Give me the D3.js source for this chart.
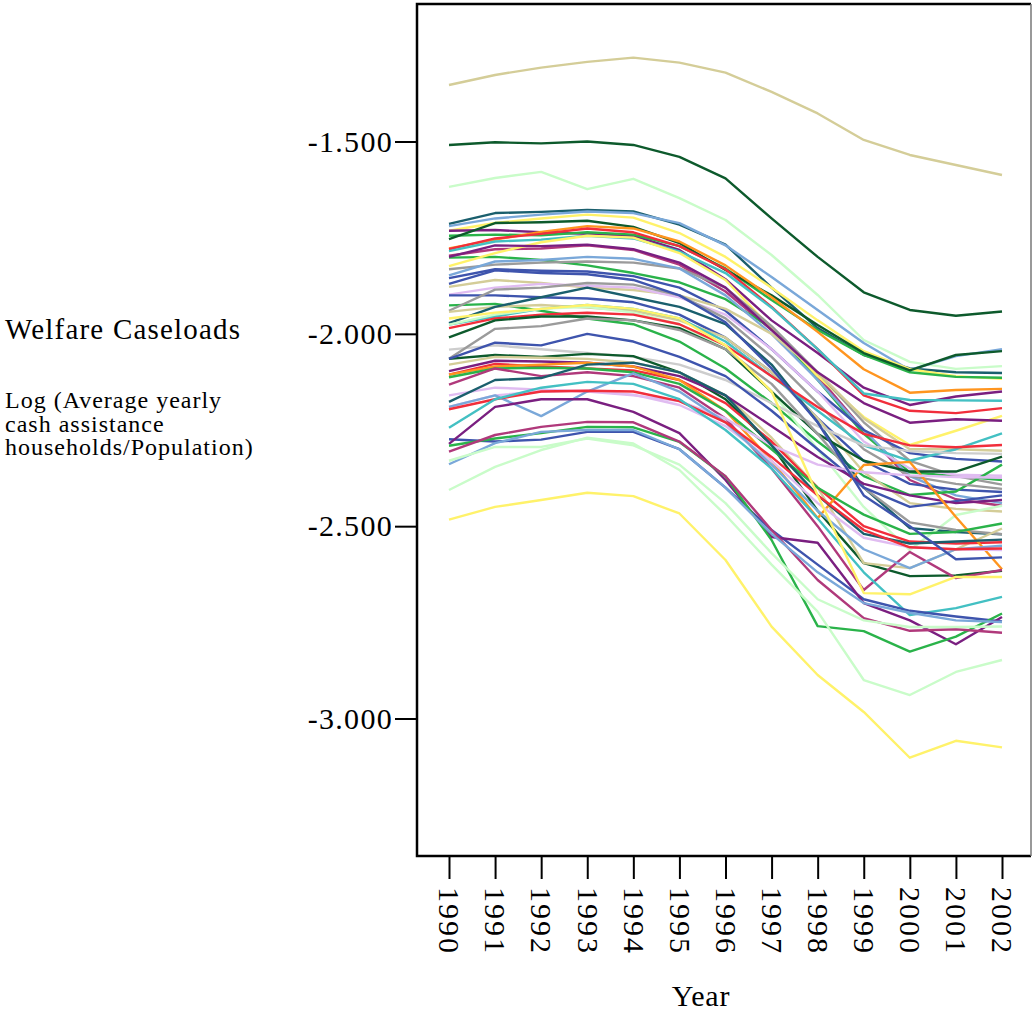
<!DOCTYPE html>
<html>
<head>
<meta charset="utf-8">
<script src="https://cdn.jsdelivr.net/npm/d3@7/dist/d3.min.js"></script>
<style>
  body { margin: 0; background: #fff; }
  svg text { font-family: "Liberation Serif", "Times New Roman", serif; fill: #000; }
</style>
</head>
<body>
<div id="chart-area"></div>
<script>
// tick labels / categories
const years = [1990, 1991, 1992, 1993, 1994, 1995, 1996, 1997, 1998, 1999, 2000, 2001, 2002]
const yTicks = [-1.5, -2.0, -2.5, -3.0]

// one colour per state line
const seriesColors = [
  "tan", "darkgreen", "lightgreen", "darkteal", "lightblue", "yellow", "purple", "green",
  "darkgreen", "orange", "red", "cyan", "magenta", "green", "yellow", "gray",
  "lightblue", "blue", "tan", "lavender", "blue", "green", "gray", "tan",
  "darkteal", "cyan", "lightgreen", "red", "darkgreen", "lightgray", "gray", "darkgreen",
  "blue", "tan", "purple", "purple", "red", "orange", "green", "magenta",
  "lavender", "darkteal", "lavender", "lightblue", "red", "cyan", "blue", "purple",
  "green", "magenta", "lightblue", "lightgreen", "lightgreen", "yellow", "yellow", "blue"
]

// log(avg yearly cash assistance households / population), 1990..2002
const caseloads = [
  [-1.353, -1.327, -1.308, -1.293, -1.282, -1.295, -1.321, -1.371, -1.427, -1.496, -1.535, -1.561, -1.587],
  [-1.509, -1.502, -1.505, -1.500, -1.509, -1.540, -1.596, -1.700, -1.800, -1.892, -1.938, -1.953, -1.942],
  [-1.618, -1.595, -1.579, -1.624, -1.597, -1.647, -1.704, -1.795, -1.899, -2.016, -2.073, -2.091, -2.084],
  [-1.714, -1.686, -1.683, -1.678, -1.682, -1.716, -1.768, -1.880, -1.985, -2.055, -2.090, -2.100, -2.102],
  [-1.720, -1.700, -1.690, -1.682, -1.686, -1.712, -1.770, -1.852, -1.938, -2.024, -2.094, -2.058, -2.040],
  [-1.732, -1.712, -1.700, -1.690, -1.698, -1.738, -1.800, -1.880, -1.965, -2.045, -2.092, -2.110, -2.117],
  [-1.732, -1.730, -1.736, -1.740, -1.745, -1.782, -1.858, -1.965, -2.050, -2.140, -2.185, -2.163, -2.150],
  [-1.745, -1.742, -1.744, -1.736, -1.742, -1.772, -1.830, -1.912, -1.990, -2.055, -2.100, -2.112, -2.114],
  [-1.754, -1.712, -1.710, -1.706, -1.722, -1.764, -1.834, -1.900, -1.977, -2.050, -2.095, -2.055, -2.045],
  [-1.778, -1.755, -1.735, -1.720, -1.726, -1.760, -1.822, -1.905, -1.995, -2.092, -2.153, -2.146, -2.143],
  [-1.780, -1.752, -1.740, -1.726, -1.736, -1.772, -1.832, -1.930, -2.040, -2.160, -2.200, -2.206, -2.193],
  [-1.785, -1.760, -1.755, -1.745, -1.752, -1.786, -1.842, -1.932, -2.040, -2.155, -2.172, -2.173, -2.174],
  [-1.797, -1.780, -1.778, -1.770, -1.782, -1.820, -1.890, -1.990, -2.110, -2.250, -2.380, -2.430, -2.447],
  [-1.802, -1.800, -1.808, -1.822, -1.842, -1.866, -1.910, -1.985, -2.120, -2.260, -2.360, -2.370, -2.380],
  [-1.824, -1.790, -1.762, -1.745, -1.750, -1.790, -1.860, -1.985, -2.110, -2.216, -2.289, -2.252, -2.213],
  [-1.832, -1.820, -1.815, -1.812, -1.815, -1.830, -1.880, -1.980, -2.100, -2.230, -2.330, -2.370, -2.392],
  [-1.848, -1.812, -1.808, -1.800, -1.805, -1.830, -1.900, -2.000, -2.120, -2.250, -2.370, -2.420, -2.440],
  [-1.855, -1.832, -1.836, -1.838, -1.850, -1.880, -1.940, -2.040, -2.150, -2.250, -2.310, -2.325, -2.332],
  [-1.878, -1.860, -1.868, -1.880, -1.886, -1.900, -1.935, -2.000, -2.100, -2.220, -2.300, -2.300, -2.304],
  [-1.898, -1.880, -1.870, -1.875, -1.880, -1.905, -1.950, -2.040, -2.150, -2.280, -2.350, -2.366, -2.369],
  [-1.900, -1.900, -1.905, -1.908, -1.918, -1.950, -2.010, -2.100, -2.220, -2.330, -2.390, -2.405, -2.411],
  [-1.926, -1.922, -1.940, -1.960, -1.975, -2.020, -2.090, -2.180, -2.280, -2.370, -2.419, -2.410, -2.340],
  [-1.940, -1.885, -1.880, -1.868, -1.872, -1.900, -1.960, -2.060, -2.180, -2.300, -2.370, -2.390, -2.403],
  [-1.943, -1.930, -1.925, -1.932, -1.940, -1.965, -2.010, -2.100, -2.220, -2.360, -2.440, -2.455, -2.462],
  [-1.972, -1.930, -1.905, -1.880, -1.905, -1.930, -1.975, -2.080, -2.230, -2.400, -2.505, -2.515, -2.521],
  [-1.976, -1.955, -1.935, -1.925, -1.935, -1.960, -2.020, -2.110, -2.200, -2.290, -2.330, -2.300, -2.259],
  [-1.976, -1.950, -1.935, -1.930, -1.945, -1.975, -2.040, -2.150, -2.300, -2.450, -2.562, -2.471, -2.447],
  [-1.985, -1.960, -1.950, -1.945, -1.950, -1.975, -2.030, -2.110, -2.190, -2.260, -2.290, -2.295, -2.289],
  [-2.009, -1.965, -1.955, -1.955, -1.965, -1.985, -2.040, -2.150, -2.260, -2.330, -2.358, -2.358, -2.319],
  [-2.041, -2.030, -2.040, -2.050, -2.060, -2.080, -2.120, -2.180, -2.240, -2.290, -2.305, -2.310, -2.312],
  [-2.065, -1.987, -1.980, -1.960, -1.965, -1.990, -2.040, -2.130, -2.260, -2.400, -2.490, -2.510, -2.521],
  [-2.065, -2.055, -2.060, -2.052, -2.058, -2.100, -2.170, -2.290, -2.460, -2.596, -2.630, -2.628, -2.616],
  [-2.065, -2.023, -2.030, -2.000, -2.020, -2.060, -2.110, -2.200, -2.300, -2.400, -2.450, -2.435, -2.420],
  [-2.080, -2.060, -2.062, -2.065, -2.075, -2.100, -2.160, -2.270, -2.400, -2.596, -2.609, -2.560, -2.506],
  [-1.800, -1.770, -1.772, -1.768, -1.780, -1.815, -1.880, -1.990, -2.100, -2.180, -2.231, -2.222, -2.226],
  [-2.097, -2.070, -2.072, -2.075, -2.085, -2.110, -2.160, -2.240, -2.320, -2.390, -2.420, -2.440, -2.432],
  [-2.106, -2.078, -2.085, -2.090, -2.095, -2.120, -2.180, -2.280, -2.400, -2.500, -2.540, -2.545, -2.542],
  [-2.106, -2.085, -2.080, -2.075, -2.085, -2.120, -2.200, -2.330, -2.479, -2.341, -2.333, -2.476, -2.612],
  [-2.113, -2.090, -2.088, -2.090, -2.100, -2.130, -2.200, -2.300, -2.400, -2.470, -2.520, -2.515, -2.493],
  [-2.132, -2.090, -2.110, -2.100, -2.110, -2.140, -2.220, -2.350, -2.500, -2.666, -2.567, -2.635, -2.614],
  [-2.160, -2.140, -2.145, -2.150, -2.160, -2.175, -2.220, -2.290, -2.340, -2.360, -2.368, -2.372, -2.374],
  [-2.177, -2.120, -2.115, -2.080, -2.075, -2.100, -2.160, -2.290, -2.420, -2.520, -2.545, -2.540, -2.535],
  [-2.190, -2.160, -2.150, -2.148, -2.158, -2.185, -2.240, -2.330, -2.440, -2.530, -2.555, -2.560, -2.562],
  [-2.190, -2.160, -2.214, -2.150, -2.103, -2.150, -2.230, -2.340, -2.460, -2.560, -2.609, -2.560, -2.551],
  [-2.196, -2.170, -2.150, -2.148, -2.150, -2.175, -2.230, -2.320, -2.420, -2.510, -2.555, -2.560, -2.558],
  [-2.244, -2.170, -2.140, -2.125, -2.130, -2.170, -2.250, -2.350, -2.480, -2.620, -2.731, -2.713, -2.684],
  [-2.274, -2.280, -2.275, -2.255, -2.255, -2.300, -2.400, -2.510, -2.600, -2.690, -2.720, -2.735, -2.748],
  [-2.286, -2.190, -2.170, -2.170, -2.203, -2.258, -2.380, -2.528, -2.543, -2.700, -2.745, -2.807, -2.736],
  [-2.291, -2.272, -2.258, -2.242, -2.243, -2.281, -2.371, -2.536, -2.760, -2.773, -2.826, -2.787, -2.727],
  [-2.306, -2.263, -2.242, -2.229, -2.230, -2.280, -2.370, -2.510, -2.640, -2.739, -2.772, -2.768, -2.777],
  [-2.339, -2.284, -2.255, -2.250, -2.250, -2.300, -2.400, -2.520, -2.620, -2.700, -2.725, -2.745, -2.749],
  [-2.330, -2.294, -2.294, -2.272, -2.290, -2.340, -2.440, -2.570, -2.690, -2.745, -2.762, -2.762, -2.761],
  [-2.406, -2.346, -2.302, -2.270, -2.285, -2.354, -2.471, -2.600, -2.722, -2.900, -2.939, -2.879, -2.848],
  [-2.483, -2.450, -2.432, -2.413, -2.422, -2.467, -2.588, -2.761, -2.887, -2.983, -3.102, -3.058, -3.075],
  [-1.960, -1.945, -1.935, -1.925, -1.935, -1.960, -2.030, -2.150, -2.420, -2.674, -2.677, -2.632, -2.632],
  [-1.870, -1.835, -1.842, -1.845, -1.860, -1.900, -1.970, -2.090, -2.230, -2.420, -2.500, -2.586, -2.581]
]

const palette = {
  tan: "#d4cd98", darkgreen: "#0d5a2c", lightgreen: "#c9fcc9", darkteal: "#1a5f6d",
  lightblue: "#7aa8d9", yellow: "#fff26a", orange: "#ff951f", red: "#f12e3b",
  purple: "#7a1f80", magenta: "#b0397b", cyan: "#43c0c3", green: "#2ab34a",
  gray: "#9b9b9b", lightgray: "#cdcdcd", blue: "#3e54ad", lavender: "#e0bcf1"
}

const W = 1032, H = 1011
const PLOT = { LEFT: 417, RIGHT: 1031, TOP: 4, BOTTOM: 856 }

const svg = d3.select("#chart-area").append("svg")
  .attr("width", W)
  .attr("height", H)

// Scales
const x = d3.scaleLinear()
  .domain([1990, 2002])
  .range([449, 1002])
const y = d3.scaleLinear()
  .domain([-1.5, -3.0])
  .range([141.5, 718.5])

// Lines
const line = d3.line()
  .x((d, i) => x(years[i]))
  .y(d => y(d))

svg.append("g")
  .selectAll("path")
  .data(caseloads)
  .enter().append("path")
    .attr("d", line)
    .attr("fill", "none")
    .attr("stroke", (d, i) => palette[seriesColors[i]])
    .attr("stroke-width", 2.4)
    .attr("stroke-linejoin", "round")

// Frame
svg.append("path")
  .attr("d", `M${PLOT.RIGHT},${PLOT.TOP} H${PLOT.LEFT} V${PLOT.BOTTOM} H${PLOT.RIGHT}`)
  .attr("fill", "none")
  .attr("stroke", "#000")
  .attr("stroke-width", 2.5)
svg.append("line")
  .attr("x1", PLOT.RIGHT).attr("x2", PLOT.RIGHT)
  .attr("y1", PLOT.TOP).attr("y2", PLOT.BOTTOM)
  .attr("stroke", "#777")
  .attr("stroke-width", 1.5)

// Y Axis
const yAxisCall = d3.axisLeft(y)
  .tickValues(yTicks)
  .tickSize(22)
  .tickPadding(2)
  .tickFormat(d => d.toFixed(3))
const yAxis = svg.append("g")
  .attr("transform", `translate(${PLOT.LEFT}, 0)`)
  .call(yAxisCall)
yAxis.select(".domain").remove()
yAxis.selectAll("line").attr("stroke", "#000").attr("stroke-width", 2)
yAxis.selectAll("text")
  .attr("font-size", "30px")
  .attr("letter-spacing", "1.3px")

// X Axis
const xAxisCall = d3.axisBottom(x)
  .tickValues(years)
  .tickSize(23)
  .tickFormat(d => String(d))
const xAxis = svg.append("g")
  .attr("transform", `translate(0, ${PLOT.BOTTOM})`)
  .call(xAxisCall)
xAxis.select(".domain").remove()
xAxis.selectAll("line").attr("stroke", "#000").attr("stroke-width", 2)
xAxis.selectAll("text")
  .attr("font-size", "30px")
  .attr("letter-spacing", "2px")
  .attr("text-anchor", "start")
  .attr("transform", "rotate(90)")
  .attr("x", 31)
  .attr("y", 0)
  .attr("dy", "0.34em")

// Labels
svg.append("text")
  .attr("x", 701)
  .attr("y", 1006)
  .attr("font-size", "30px")
  .attr("letter-spacing", "0.8px")
  .attr("text-anchor", "middle")
  .text("Year")

svg.append("text")
  .attr("x", 5)
  .attr("y", 339)
  .attr("font-size", "29px")
  .attr("letter-spacing", "1.2px")
  .text("Welfare Caseloads")

const yNote = ["Log (Average yearly", "cash assistance", "households/Population)"]
yNote.forEach((t, i) => {
  svg.append("text")
    .attr("x", 5)
    .attr("y", 408 + i * 23.5)
    .attr("font-size", "24px")
    .attr("letter-spacing", "1px")
    .text(t)
})
</script>
</body>
</html>
